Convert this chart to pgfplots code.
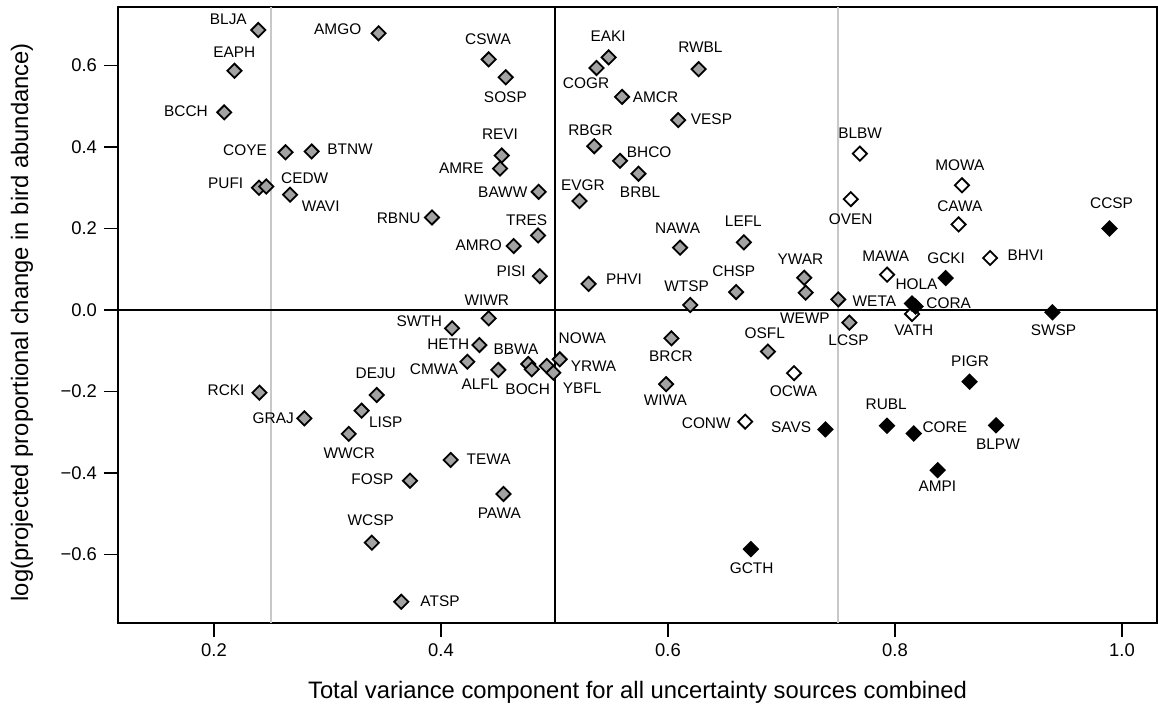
\documentclass[border=0pt]{standalone}
\usepackage{fontspec}
\setmainfont{Liberation Sans}
\usepackage{pgfplots}
\pgfplotsset{compat=1.18}
\definecolor{markgray}{RGB}{162,162,162}
\definecolor{refgray}{RGB}{200,200,200}

\tikzset{lab/.style={font=\fontsize{7.7}{9}\selectfont, inner sep=0pt}}
\pgfplotsset{bird/.style={only marks, mark=square*, mark size=2.5pt,
  mark options={rotate=45, draw=black, line width=0.9pt, fill=#1}}}

\begin{document}
\begin{tikzpicture}
\path[use as bounding box] (-59pt,-42pt) rectangle (520pt,311.5pt);
\begin{axis}[
  scale only axis, width=519.5pt, height=308.15pt,
  xmin=0.1154, xmax=1.0308, ymin=-0.7681, ymax=0.7443,
  axis line style={line width=1.1pt},
  tick align=outside, major tick length=7pt,
  tick style={line width=0.9pt, black},
  xtick pos=bottom, ytick pos=left,
  xtick={0.2,0.4,0.6,0.8,1.0}, xticklabels={0.2,0.4,0.6,0.8,1.0},
  ytick={-0.6,-0.4,-0.2,0,0.2,0.4,0.6},
  yticklabels={−0.6,−0.4,−0.2,0.0,0.2,0.4,0.6},
  tick label style={font=\fontsize{9.2}{11}\selectfont},
  xlabel={Total variance component for all uncertainty sources combined},
  ylabel={log(projected proportional change in bird abundance)},
  xlabel style={font=\fontsize{11.9}{14}\selectfont, at={(axis description cs:0.5,-0.112)}, anchor=center},
  ylabel style={font=\fontsize{11.9}{14}\selectfont, at={(axis description cs:-0.0924,0.488)}, anchor=center},
  clip=false,
]
% reference lines
\addplot[refgray, line width=1pt] coordinates {(0.25,-0.7681) (0.25,0.7443)};
\addplot[refgray, line width=1pt] coordinates {(0.75,-0.7681) (0.75,0.7443)};
\addplot[black, line width=1pt] coordinates {(0.5,-0.7681) (0.5,0.7443)};
\addplot[black, line width=1pt] coordinates {(0.1154,0) (1.0308,0)};

% grey species
\addplot[bird=markgray] coordinates {
(0.239,0.687) (0.345,0.679) (0.218,0.587) (0.442,0.615) (0.457,0.571)
(0.209,0.485) (0.263,0.387) (0.286,0.389) (0.4535,0.379) (0.452,0.347)
(0.2396,0.300) (0.246,0.303) (0.267,0.283) (0.486,0.290) (0.392,0.227)
(0.4855,0.183) (0.464,0.157) (0.487,0.083) (0.442,-0.0204) (0.4097,-0.045)
(0.4338,-0.086) (0.4232,-0.127) (0.4505,-0.147) (0.4769,-0.1325) (0.480,-0.1456)
(0.4931,-0.1374) (0.499,-0.154) (0.5046,-0.121) (0.240,-0.203) (0.2796,-0.266)
(0.3433,-0.2086) (0.330,-0.247) (0.3187,-0.304) (0.4085,-0.368) (0.3727,-0.419)
(0.455,-0.4515) (0.339,-0.571) (0.365,-0.716) (0.5477,0.620) (0.537,0.594)
(0.627,0.591) (0.5595,0.523) (0.609,0.466) (0.535,0.402) (0.5577,0.366)
(0.574,0.3345) (0.522,0.2675) (0.6106,0.153) (0.6668,0.166) (0.530,0.064)
(0.720,0.079) (0.7213,0.0425) (0.660,0.044) (0.6196,0.0123) (0.750,0.026)
(0.7598,-0.031) (0.603,-0.0695) (0.5983,-0.182) (0.688,-0.102)
};
% white species
\addplot[bird=white] coordinates {
(0.769,0.3836) (0.859,0.306) (0.761,0.272) (0.856,0.210) (0.8838,0.1276)
(0.793,0.0867) (0.815,-0.0098) (0.711,-0.155) (0.668,-0.274)
};
% black species
\addplot[bird=black] coordinates {
(0.989,0.200) (0.8446,0.0785) (0.815,0.016) (0.818,0.0085) (0.9387,-0.0057)
(0.8657,-0.176) (0.7929,-0.284) (0.8165,-0.303) (0.889,-0.283) (0.7387,-0.293)
(0.8376,-0.393) (0.673,-0.587)
};

% species codes
\node[lab] at (axis cs:0.2126,0.713) {BLJA};
\node[lab] at (axis cs:0.309,0.689) {AMGO};
\node[lab] at (axis cs:0.2179,0.632) {EAPH};
\node[lab] at (axis cs:0.4414,0.665) {CSWA};
\node[lab] at (axis cs:0.4567,0.522) {SOSP};
\node[lab] at (axis cs:0.1753,0.487) {BCCH};
\node[lab] at (axis cs:0.452,0.432) {REVI};
\node[lab] at (axis cs:0.2273,0.391) {COYE};
\node[lab] at (axis cs:0.3198,0.394) {BTNW};
\node[lab] at (axis cs:0.4179,0.349) {AMRE};
\node[lab] at (axis cs:0.2103,0.312) {PUFI};
\node[lab] at (axis cs:0.2799,0.323) {CEDW};
\node[lab] at (axis cs:0.294,0.255) {WAVI};
\node[lab] at (axis cs:0.4544,0.290) {BAWW};
\node[lab] at (axis cs:0.3627,0.224) {RBNU};
\node[lab] at (axis cs:0.4755,0.221) {TRES};
\node[lab] at (axis cs:0.4332,0.158) {AMRO};
\node[lab] at (axis cs:0.4617,0.094) {PISI};
\node[lab] at (axis cs:0.4403,0.0245) {WIWR};
\node[lab] at (axis cs:0.5473,0.673) {EAKI};
\node[lab] at (axis cs:0.6285,0.645) {RWBL};
\node[lab] at (axis cs:0.5278,0.557) {COGR};
\node[lab] at (axis cs:0.589,0.523) {AMCR};
\node[lab] at (axis cs:0.6383,0.468) {VESP};
\node[lab] at (axis cs:0.5317,0.440) {RBGR};
\node[lab] at (axis cs:0.7692,0.435) {BLBW};
\node[lab] at (axis cs:0.5834,0.388) {BHCO};
\node[lab] at (axis cs:0.8571,0.356) {MOWA};
\node[lab] at (axis cs:0.5251,0.306) {EVGR};
\node[lab] at (axis cs:0.5754,0.290) {BRBL};
\node[lab] at (axis cs:0.7609,0.2226) {OVEN};
\node[lab] at (axis cs:0.8571,0.2535) {CAWA};
\node[lab] at (axis cs:0.9908,0.262) {CCSP};
\node[lab] at (axis cs:0.6664,0.2167) {LEFL};
\node[lab] at (axis cs:0.6085,0.1995) {NAWA};
\node[lab] at (axis cs:0.7167,0.125) {YWAR};
\node[lab] at (axis cs:0.7918,0.133) {MAWA};
\node[lab] at (axis cs:0.845,0.128) {GCKI};
\node[lab] at (axis cs:0.9151,0.135) {BHVI};
\node[lab] at (axis cs:0.5612,0.0753) {PHVI};
\node[lab] at (axis cs:0.658,0.0957) {CHSP};
\node[lab] at (axis cs:0.6164,0.0589) {WTSP};
\node[lab] at (axis cs:0.8189,0.063) {HOLA};
\node[lab] at (axis cs:0.7818,0.0204) {WETA};
\node[lab] at (axis cs:0.8473,0.0164) {CORA};
\node[lab] at (axis cs:0.7206,-0.0204) {WEWP};
\node[lab] at (axis cs:0.7591,-0.0736) {LCSP};
\node[lab] at (axis cs:0.8165,-0.0508) {VATH};
\node[lab] at (axis cs:0.9397,-0.0491) {SWSP};
\node[lab] at (axis cs:0.5245,-0.0694) {NOWA};
\node[lab] at (axis cs:0.6026,-0.1129) {BRCR};
\node[lab] at (axis cs:0.6852,-0.0572) {OSFL};
\node[lab] at (axis cs:0.5344,-0.138) {YRWA};
\node[lab] at (axis cs:0.5244,-0.193) {YBFL};
\node[lab] at (axis cs:0.7105,-0.1988) {OCWA};
\node[lab] at (axis cs:0.5976,-0.2209) {WIWA};
\node[lab] at (axis cs:0.8661,-0.1252) {PIGR};
\node[lab] at (axis cs:0.7922,-0.2307) {RUBL};
\node[lab] at (axis cs:0.8439,-0.2864) {CORE};
\node[lab] at (axis cs:0.6337,-0.278) {CONW};
\node[lab] at (axis cs:0.7085,-0.2888) {SAVS};
\node[lab] at (axis cs:0.8907,-0.3296) {BLPW};
\node[lab] at (axis cs:0.8373,-0.4336) {AMPI};
\node[lab] at (axis cs:0.6737,-0.6324) {GCTH};
\node[lab] at (axis cs:0.3809,-0.0287) {SWTH};
\node[lab] at (axis cs:0.4064,-0.0834) {HETH};
\node[lab] at (axis cs:0.4661,-0.0964) {BBWA};
\node[lab] at (axis cs:0.3938,-0.1455) {CMWA};
\node[lab] at (axis cs:0.4344,-0.1816) {ALFL};
\node[lab] at (axis cs:0.4764,-0.1946) {BOCH};
\node[lab] at (axis cs:0.2106,-0.1963) {RCKI};
\node[lab] at (axis cs:0.2522,-0.2658) {GRAJ};
\node[lab] at (axis cs:0.3425,-0.1553) {DEJU};
\node[lab] at (axis cs:0.3513,-0.2756) {LISP};
\node[lab] at (axis cs:0.3192,-0.3517) {WWCR};
\node[lab] at (axis cs:0.442,-0.3656) {TEWA};
\node[lab] at (axis cs:0.3395,-0.4147) {FOSP};
\node[lab] at (axis cs:0.4514,-0.4989) {PAWA};
\node[lab] at (axis cs:0.3381,-0.517) {WCSP};
\node[lab] at (axis cs:0.3991,-0.7158) {ATSP};
\end{axis}
\end{tikzpicture}
\end{document}
